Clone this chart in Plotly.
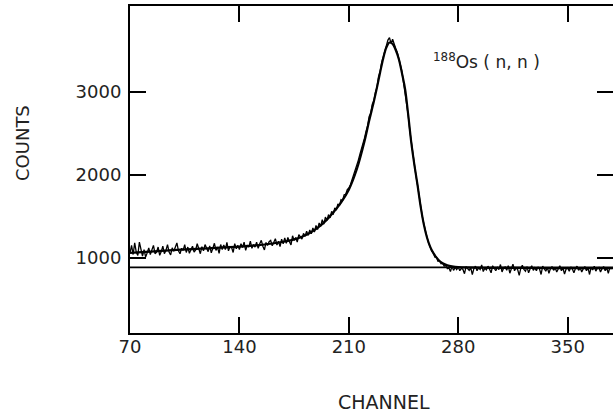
import plotly.graph_objects as go

# ---- data ----
channel_start = 70
counts = [
    # 70-79
    1060, 1150, 1040, 1180, 1070, 1030, 1190, 1080, 1020, 1100,
    # 80-89
    1010, 1060, 1120, 1040, 1090, 1150, 1050, 1070, 1130, 1030,
    # 90-99
    1075, 1140, 1050, 1090, 1160, 1070, 1035, 1120, 1080, 1145,
    # 100-109
    1180, 1085, 1050, 1115, 1090, 1160, 1065, 1130, 1055, 1100,
    # 110-119
    1140, 1070, 1095, 1170, 1100, 1050, 1135, 1085, 1160, 1105,
    # 120-129
    1075, 1145, 1060, 1115, 1175, 1090, 1130, 1055, 1160, 1100,
    # 130-139
    1155, 1100, 1185, 1085, 1135, 1125, 1065, 1170, 1110, 1150,
    # 140-149
    1100, 1170, 1125, 1190, 1090, 1150, 1130, 1200, 1115, 1160,
    # 150-159
    1130, 1190, 1115, 1170, 1210, 1140, 1095, 1185, 1150, 1195,
    # 160-169
    1210, 1145, 1180, 1230, 1155, 1200, 1135, 1225, 1170, 1240,
    # 170-179
    1175, 1245, 1195, 1155, 1265, 1210, 1245, 1190, 1280, 1250,
    # 180-189
    1225, 1295, 1260, 1320, 1270, 1335, 1290, 1360, 1310, 1390,
    # 190-199
    1340, 1420, 1380, 1460, 1405, 1490, 1450, 1520, 1480, 1560,
    # 200-209
    1520, 1600, 1575, 1650, 1630, 1700, 1690, 1760, 1765, 1820,
    # 210-219
    1840, 1880, 1935, 1990, 2040, 2110, 2170, 2240, 2300, 2370,
    # 220-229
    2440, 2520, 2590, 2700, 2740, 2850, 2890, 2990, 3050, 3180,
    # 230-239
    3240, 3350, 3420, 3510, 3570, 3620, 3650, 3580, 3630, 3560,
    # 240-249
    3520, 3470, 3410, 3320, 3240, 3110, 3030, 2860, 2710, 2530,
    # 250-259
    2380, 2230, 2110, 1980, 1870, 1730, 1610, 1500, 1410, 1310,
    # 260-269
    1250, 1180, 1140, 1080, 1065, 1010, 1010, 960, 965, 930,
    # 270-279
    935, 900, 910, 870, 880, 835, 900, 850, 885, 860,
    # 280-289
    890, 845, 875, 860, 810, 895, 870, 850, 880, 800,
    # 290-299
    870, 900, 845, 880, 860, 915, 835, 875, 855, 900,
    # 300-309
    865, 820, 905, 870, 845, 885, 860, 920, 830, 875,
    # 310-319
    890, 850, 905, 815, 870, 925, 845, 880, 860, 790,
    # 320-329
    875, 910, 860, 840, 895, 820, 870, 905, 850, 880,
    # 330-339
    845, 890, 865, 800, 900, 870, 840, 885, 815, 870,
    # 340-349
    895, 850, 880, 830, 865, 905, 845, 875, 805, 865,
    # 350-359
    880, 840, 890, 865, 820, 875, 900, 850, 880, 830,
    # 360-369
    870, 895, 845, 880, 800, 885, 855, 900, 840, 875,
    # 370-378
    885, 830, 870, 895, 845, 880, 815, 885, 865,
]
channels = [channel_start + i for i in range(len(counts))]

fit_channels = [70, 80, 90, 100, 110, 120, 130, 140, 150, 160, 170, 175, 180, 185,
                190, 195, 200, 205, 210, 215, 220, 223, 226, 228, 230, 232,
                234, 236, 238, 240, 242, 244, 246, 248, 250, 252, 254, 256, 258,
                260, 262, 264, 266, 268, 270, 273, 276, 280, 300, 330, 360, 379]
fit_counts = [1060, 1072, 1084, 1095, 1105, 1115, 1125, 1135, 1150, 1170, 1200, 1222,
              1255, 1300, 1360, 1440, 1545, 1665, 1820, 2060, 2400, 2650, 2880,
              3050, 3230, 3400, 3530, 3590, 3575, 3500, 3390, 3220, 3030, 2720, 2380,
              2110, 1870, 1610, 1400, 1245, 1135, 1060, 1005, 962, 935, 910, 897, 888,
              880, 878, 876, 875]

baseline_level = 885
x_range = [70, 379]
y_range = [96, 4030]
x_ticks = [70, 140, 210, 280, 350]
y_ticks = [1000, 2000, 3000]

fig = go.Figure()
fig.add_trace(go.Scatter(x=x_range, y=[baseline_level, baseline_level], mode="lines",
                         line=dict(color="black", width=1.6), hoverinfo="skip"))
fig.add_trace(go.Scatter(x=channels, y=counts, mode="lines",
                         line=dict(color="black", width=1.3)))
fig.add_trace(go.Scatter(x=fit_channels, y=fit_counts, mode="lines",
                         line=dict(color="black", width=2.2, shape="spline", smoothing=1)))

axis_common = dict(showline=True, linecolor="black", linewidth=2, mirror="ticks",
                   ticks="inside", ticklen=16, tickwidth=2, tickcolor="black",
                   showgrid=False, zeroline=False,
                   tickfont=dict(family="DejaVu Sans", size=18, color="#222"))

W, H = 613, 412
L, R, T, B = 130, 0, 6, 79
PW, PH = W - L - R, H - T - B


def px(xp):
    return (xp - L) / PW


def py(yp):
    return (H - B - yp) / PH


fig.update_layout(
    width=W, height=H,
    margin=dict(l=L, r=R, t=T, b=B, autoexpand=False),
    paper_bgcolor="white", plot_bgcolor="white",
    showlegend=False,
    xaxis=dict(range=x_range, tickvals=x_ticks, ticktext=[str(v) for v in x_ticks],
               ticklabelstandoff=-4, **axis_common),
    yaxis=dict(range=y_range, tickvals=y_ticks, ticktext=[str(v) for v in y_ticks],
               ticklabelstandoff=3, **axis_common),
    annotations=[
        dict(text="COUNTS", xref="paper", yref="paper", x=px(22), y=py(143),
             xanchor="center", yanchor="middle",
             textangle=-90, showarrow=False, font=dict(family="DejaVu Sans", size=18, color="#222")),
        dict(text="CHANNEL", xref="paper", yref="paper", x=px(384), y=py(402),
             xanchor="center", yanchor="middle",
             showarrow=False, font=dict(family="DejaVu Sans", size=19, color="#222")),
        dict(text="<sup>188</sup>Os ( n, n )", xref="paper", yref="paper",
             x=px(431), y=py(74), xanchor="left", yanchor="bottom", showarrow=False,
             font=dict(family="DejaVu Sans", size=17, color="#222")),
    ],
)

fig.write_html("out.html", config={"displayModeBar": False},
               post_script="document.body.style.margin='0';")
